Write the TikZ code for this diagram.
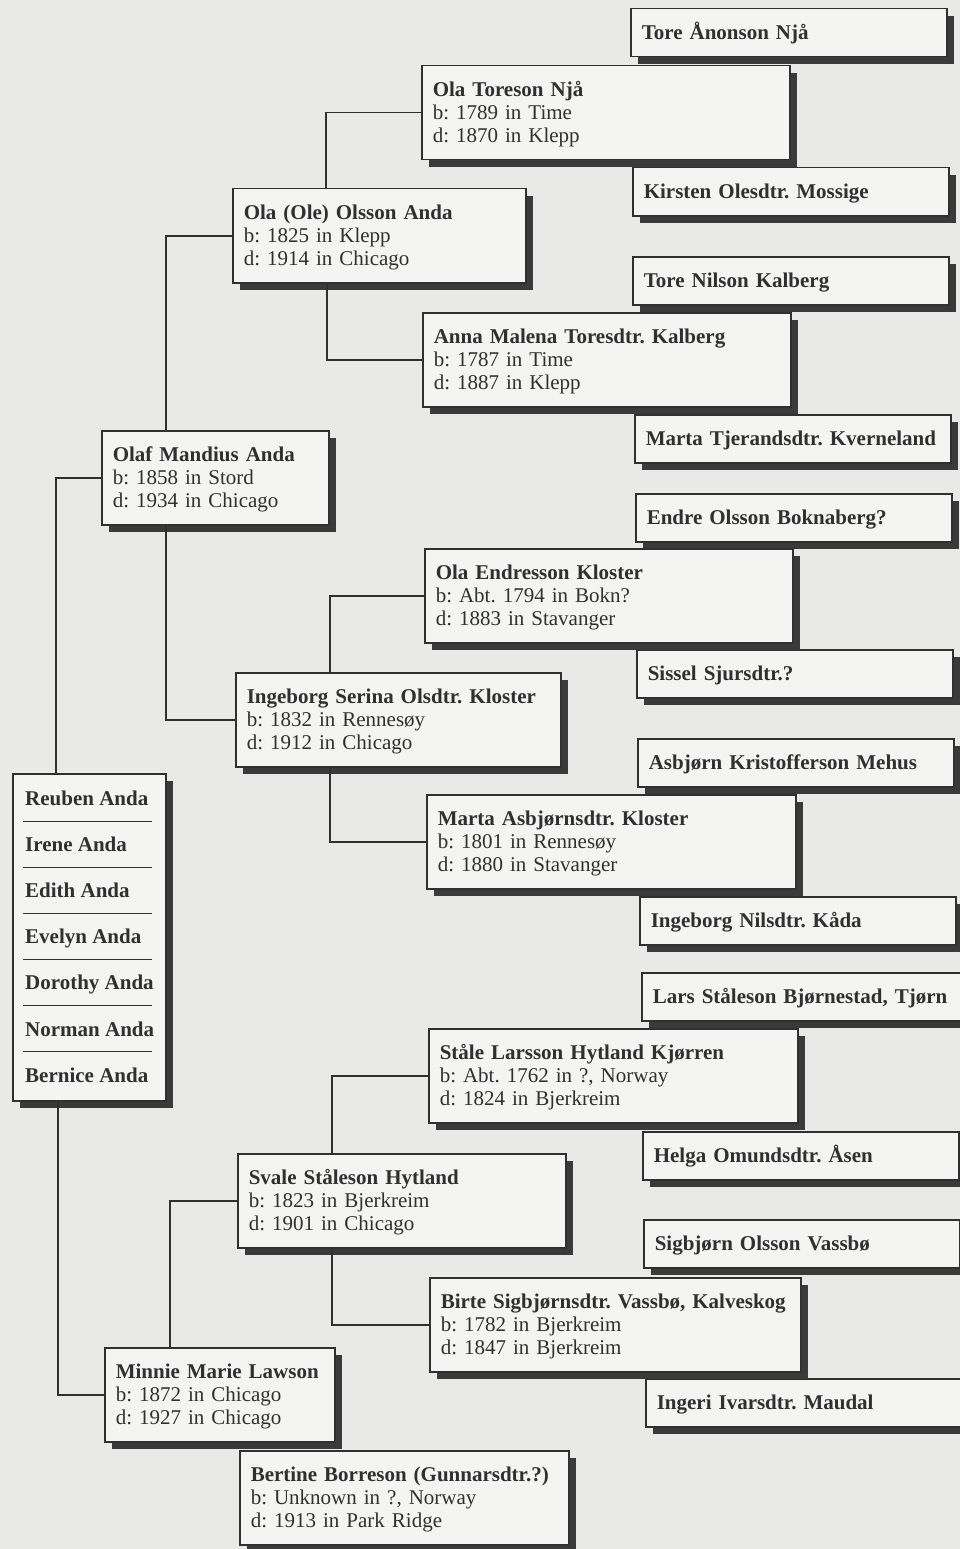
\documentclass[tikz,border=0pt]{standalone}
\usepackage{fontspec}
\setmainfont{Liberation Serif}
\frenchspacing
\usetikzlibrary{shadows}
\definecolor{paper}{RGB}{233,233,231}
\definecolor{boxfill}{RGB}{244,244,242}
\definecolor{ink}{RGB}{48,48,48}
\definecolor{shade}{RGB}{58,58,58}

\begin{document}
\begin{tikzpicture}[x=1pt,y=-1pt,
		box/.style={draw=ink, line width=1.5pt, fill=boxfill, text=ink, anchor=north west, align=left,
			inner xsep=11pt, inner ysep=13pt, font=\fontsize{21}{23}\selectfont,
			drop shadow={shadow xshift=7pt, shadow yshift=-7pt, fill=shade, opacity=1}},
		one/.style={box, text width=#1, text height=18pt, text depth=4pt},
		three/.style={box, text width=#1, text height=18pt, text depth=50pt},
		kidname/.style={anchor=base west, inner sep=0pt, text=ink, font=\fontsize{21}{23}\selectfont\bfseries},
		link/.style={draw=ink, line width=1.5pt},
		sep/.style={draw=ink, line width=1pt}]

	\fill[paper] (0,0) rectangle (960,1549);
	\useasboundingbox (0,0) rectangle (960,1549);

	\node[one=294pt] (toreA) at (630,8) {\textbf{Tore Ånonson Njå}};
	\node[one=294pt] (kirsten) at (632,167) {\textbf{Kirsten Olesdtr. Mossige}};
	\node[one=294pt] (toreK) at (632,256) {\textbf{Tore Nilson Kalberg}};
	\node[one=294pt] (martaT) at (634,414) {\textbf{Marta Tjerandsdtr. Kverneland}};
	\node[one=294pt] (endre) at (635,493) {\textbf{Endre Olsson Boknaberg?}};
	\node[one=294pt] (sissel) at (636,649) {\textbf{Sissel Sjursdtr.?}};
	\node[one=294pt] (asbjorn) at (637,738) {\textbf{Asbjørn Kristofferson Mehus}};
	\node[one=294pt] (ingeborgN) at (639,896) {\textbf{Ingeborg Nilsdtr. Kåda}};
	\node[one=302pt] (lars) at (641,972) {\textbf{Lars Ståleson Bjørnestad, Tjørn}};
	\node[one=294pt] (helga) at (642,1131) {\textbf{Helga Omundsdtr. Åsen}};
	\node[one=294pt] (sigbjorn) at (643,1219) {\textbf{Sigbjørn Olsson Vassbø}};
	\node[one=294pt] (ingeri) at (645,1378) {\textbf{Ingeri Ivarsdtr. Maudal}};

	\node[three=346pt] (olaT) at (421,65) {\textbf{Ola Toreson Njå}\\b: 1789 in Time\\d: 1870 in Klepp};
	\node[three=346pt] (anna) at (422,312) {\textbf{Anna Malena Toresdtr. Kalberg}\\b: 1787 in Time\\d: 1887 in Klepp};
	\node[three=346pt] (olaE) at (424,548) {\textbf{Ola Endresson Kloster}\\b: Abt. 1794 in Bokn?\\d: 1883 in Stavanger};
	\node[three=347pt] (martaA) at (426,794) {\textbf{Marta Asbjørnsdtr. Kloster}\\b: 1801 in Rennesøy\\d: 1880 in Stavanger};
	\node[three=347pt] (stale) at (428,1028) {\textbf{Ståle Larsson Hytland Kjørren}\\b: Abt. 1762 in ?, Norway\\d: 1824 in Bjerkreim};
	\node[three=349pt] (birte) at (429,1277) {\textbf{Birte Sigbjørnsdtr. Vassbø, Kalveskog}\\b: 1782 in Bjerkreim\\d: 1847 in Bjerkreim};

	\node[three=271pt] (olaO) at (232,188) {\textbf{Ola (Ole) Olsson Anda}\\b: 1825 in Klepp\\d: 1914 in Chicago};
	\node[three=303pt] (ingeborgS) at (235,672) {\textbf{Ingeborg Serina Olsdtr. Kloster}\\b: 1832 in Rennesøy\\d: 1912 in Chicago};
	\node[three=306pt] (svale) at (237,1153) {\textbf{Svale Ståleson Hytland}\\b: 1823 in Bjerkreim\\d: 1901 in Chicago};
	\node[three=307pt] (bertine) at (239,1450) {\textbf{Bertine Borreson (Gunnarsdtr.?)}\\b: Unknown in ?, Norway\\d: 1913 in Park Ridge};

	\node[three=205pt] (olaf) at (101,430) {\textbf{Olaf Mandius Anda}\\b: 1858 in Stord\\d: 1934 in Chicago};
	\node[three=208pt] (minnie) at (104,1347) {\textbf{Minnie Marie Lawson}\\b: 1872 in Chicago\\d: 1927 in Chicago};

	\node[box, minimum width=153pt, minimum height=327pt, inner sep=0pt] (kids) at (12,773) {};
	\foreach \kid [count=\i] in {Reuben Anda, Irene Anda, Edith Anda, Evelyn Anda, Dorothy Anda, Norman Anda, Bernice Anda}
		\node[kidname] (kid\i) at ([xshift=13pt, yshift={-32pt-(\i-1)*46.2pt}]kids.north west) {\kid};
	\foreach \i in {1,...,6}
		\draw[sep] ([xshift=11pt, yshift={-48pt-(\i-1)*46pt}]kids.north west) -- ++(129,0);

	\draw[link] ([xshift=44pt]kids.north west) |- (olaf.west);
	\draw[link] ([xshift=46pt]kids.south west) |- (minnie.west);
	\draw[link] ([xshift=65pt]olaf.north west) |- (olaO.west);
	\draw[link] ([xshift=65pt]olaf.south west) |- (ingeborgS.west);
	\draw[link] ([xshift=94pt]olaO.north west) |- (olaT.west);
	\draw[link] ([xshift=95pt]olaO.south west) |- (anna.west);
	\draw[link] ([xshift=95pt]ingeborgS.north west) |- (olaE.west);
	\draw[link] ([xshift=95pt]ingeborgS.south west) |- (martaA.west);
	\draw[link] ([xshift=66pt]minnie.north west) |- (svale.west);
	\draw[link] ([xshift=95pt]svale.north west) |- (stale.west);
	\draw[link] ([xshift=95pt]svale.south west) |- (birte.west);

\end{tikzpicture}
\end{document}
